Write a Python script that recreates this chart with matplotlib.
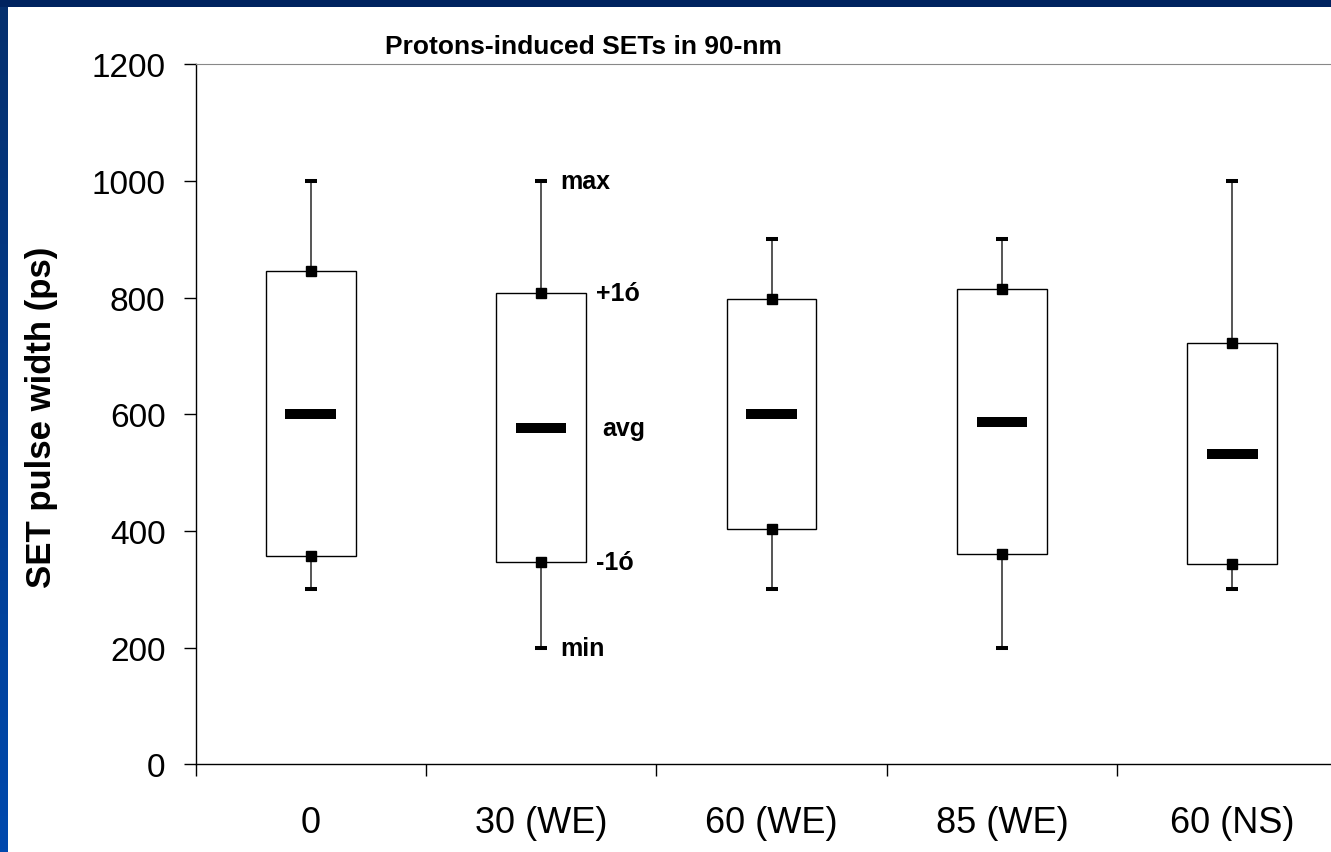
import numpy as np
import matplotlib
matplotlib.use("Agg")
import matplotlib.pyplot as plt
from matplotlib.patches import Rectangle

plt.rcParams['font.family'] = ['Liberation Sans', 'DejaVu Sans']

# SET pulse widths per tilt angle (ps)
angles = ['0', '30 (WE)', '60 (WE)', '85 (WE)', '60 (NS)']
pw_max = [1000, 1000, 900, 900, 1000]
pw_plus = [845, 808, 797, 815, 722]     # avg + 1 sigma
pw_avg = [600, 577, 600, 587, 532]
pw_minus = [357, 346, 404, 360, 343]    # avg - 1 sigma
pw_min = [300, 200, 300, 200, 300]

W, H = 1331, 853
fig = plt.figure(figsize=(W / 100, H / 100), dpi=100, facecolor='white')

# slide frame: dark band on top, blue gradient down the left side
fig.patches.append(Rectangle((0, 1 - 7.5 / H), 1, 7.5 / H, transform=fig.transFigure,
                             facecolor='#00235f', edgecolor='none', zorder=0))
gax = fig.add_axes([0, 0, 8 / W, 1 - 7.5 / H])
grad = np.linspace(0, 1, 256).reshape(-1, 1)
cmap = matplotlib.colors.LinearSegmentedColormap.from_list('frame', ['#06306e', '#0049ae'])
gax.imshow(grad, aspect='auto', cmap=cmap)
gax.set_axis_off()

x0, x1 = 195.5, 1347.5
y0, y1 = 765.3, 65.3
ax = fig.add_axes([x0 / W, 1 - y0 / H, (x1 - x0) / W, (y0 - y1) / H])
x = np.arange(len(angles))

# box between -1 sigma and +1 sigma
box_h = [p - m for p, m in zip(pw_plus, pw_minus)]
ax.bar(x, box_h, bottom=pw_minus, width=0.39, facecolor='white', edgecolor='black',
       linewidth=1.0, zorder=2)

# whiskers to min / max
ax.vlines(x, pw_plus, pw_max, color='#555555', linewidth=1.4, zorder=3)
ax.vlines(x, pw_min, pw_minus, color='#555555', linewidth=1.4, zorder=3)
ax.plot(x, pw_max, linestyle='none', marker='_', markersize=8.6, markeredgewidth=2.9,
        color='black', zorder=4)
ax.plot(x, pw_min, linestyle='none', marker='_', markersize=8.6, markeredgewidth=2.9,
        color='black', zorder=4)
ax.plot(x, pw_plus, linestyle='none', marker='s', markersize=7.2, color='black', zorder=4)
ax.plot(x, pw_minus, linestyle='none', marker='s', markersize=7.2, color='black', zorder=4)

# average
ax.hlines(pw_avg, x - 0.11, x + 0.11, color='black', linewidth=7.2, capstyle='butt', zorder=4)

# labels on the 30 (WE) box
lab_kw = dict(fontsize=18, fontweight='bold', ha='left', va='center', zorder=5)
ax.text(x[1] + 0.085, pw_max[1], 'max', **lab_kw)
ax.text(x[1] + 0.24, pw_plus[1], '+1ó', **lab_kw)
ax.text(x[1] + 0.267, pw_avg[1], 'avg', **lab_kw)
ax.text(x[1] + 0.24, pw_minus[1], '-1ó', **lab_kw)
ax.text(x[1] + 0.085, pw_min[1], 'min', **lab_kw)

ax.set_xlim(-0.5, len(angles) - 0.5)
ax.set_ylim(0, 1200)
ax.set_yticks(np.arange(0, 1201, 200))
ax.set_xticks(x)
ax.set_xticklabels(angles)
ax.set_xticks(np.arange(-0.5, len(angles)), minor=True)
ax.tick_params(axis='x', which='major', length=0, pad=29, labelsize=26)
ax.tick_params(axis='x', which='minor', length=8.6, width=1, direction='out', color='black')
ax.tick_params(axis='y', length=8.6, width=1, direction='out', pad=13, labelsize=24,
               color='black')

ax.spines['right'].set_visible(False)
ax.spines['top'].set_color('#888888')
for s in ('left', 'bottom'):
    ax.spines[s].set_color('black')
    ax.spines[s].set_linewidth(1.0)

fig.text(42 / W, 1 - 417 / H, 'SET pulse width (ps)', rotation=90, ha='center', va='center',
         fontsize=25, fontweight='bold')
fig.text(583 / W, 1 - 47 / H, 'Protons-induced SETs in 90-nm', ha='center', va='center',
         fontsize=19, fontweight='bold')

fig.savefig('out.png', dpi=100, facecolor='white')
